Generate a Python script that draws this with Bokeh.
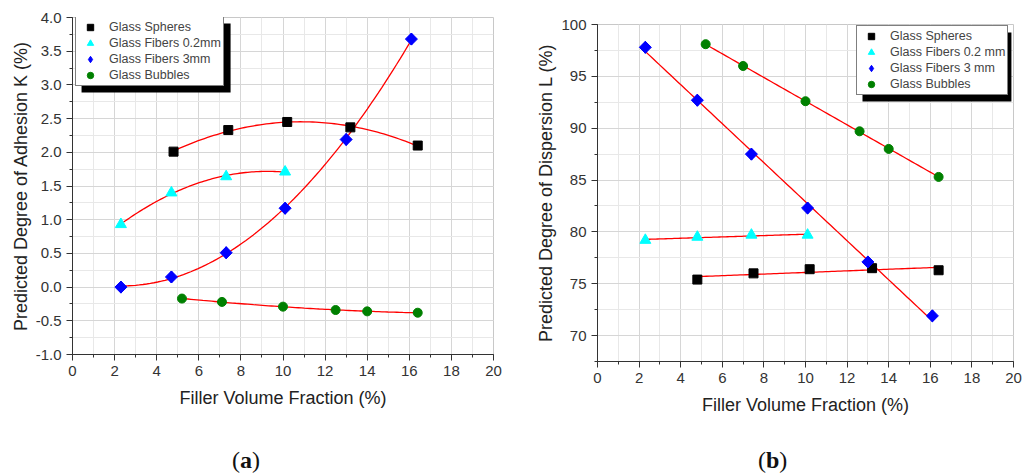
import numpy as np
from bokeh.plotting import figure
from bokeh.models import (Legend, LegendItem, BoxAnnotation, FixedTicker,
                          Range1d, NumeralTickFormatter, Div, Spacer)
from bokeh.layouts import row, column
from bokeh.embed import file_html
from bokeh.resources import INLINE

# ---------------- data (a) : Predicted Degree of Adhesion K (%) ----------------
a_spheres_x = [4.8, 7.4, 10.2, 13.2, 16.4]
a_spheres_y = [2.01, 2.33, 2.45, 2.37, 2.10]
a_fib02_x = [2.3, 4.7, 7.3, 10.1]
a_fib02_y = [0.93, 1.40, 1.64, 1.71]
a_fib3_x = [2.3, 4.7, 7.3, 10.1, 13.0, 16.1]
a_fib3_y = [0.0, 0.15, 0.51, 1.17, 2.19, 3.68]
a_bub_x = [5.2, 7.1, 10.0, 12.5, 14.0, 16.4]
a_bub_y = [-0.17, -0.22, -0.29, -0.34, -0.36, -0.38]

# ---------------- data (b) : Predicted Degree of Dispersion L (%) ----------------
b_spheres_x = [4.8, 7.5, 10.2, 13.2, 16.4]
b_spheres_y = [75.4, 76.0, 76.4, 76.5, 76.3]
b_fib02_x = [2.3, 4.8, 7.4, 10.1]
b_fib02_y = [79.2, 79.5, 79.7, 79.7]
b_fib3_x = [2.3, 4.8, 7.4, 10.1, 13.0, 16.1]
b_fib3_y = [97.8, 92.7, 87.5, 82.3, 77.1, 71.9]
b_bub_x = [5.2, 7.0, 10.0, 12.6, 14.0, 16.4]
b_bub_y = [98.1, 96.0, 92.6, 89.7, 88.0, 85.3]

x_ticks = list(range(0, 21, 2))
a_y_ticks = [-1.0, -0.5, 0.0, 0.5, 1.0, 1.5, 2.0, 2.5, 3.0, 3.5, 4.0]
b_y_ticks = [70, 75, 80, 85, 90, 95, 100]

names_a = ["Glass Spheres", "Glass Fibers 0.2mm", "Glass Fibers 3mm", "Glass Bubbles"]
names_b = ["Glass Spheres", "Glass Fibers 0.2 mm", "Glass Fibers 3 mm", "Glass Bubbles"]

FONT = "Liberation Sans"
# (marker, colour, size, angle)
styles = [("square", "black", 9, 0.0), ("triangle", "#00FFFF", 11, 0.0),
          ("square", "#0000FF", 8.5, np.pi / 4), ("circle", "#008000", 9, 0.0)]


def fit_line(p, xs, ys, deg):
    c = np.polyfit(xs, ys, deg)
    xx = np.linspace(min(xs), max(xs), 80)
    p.line(xx, np.polyval(c, xx), line_color="red", line_width=1.3)


def make_fig(height, xr, yr, yticks, ylabel, borders, ytick_minor, fmt):
    bl, br, bt, bb = borders
    p = figure(width=517, height=height, x_range=Range1d(*xr), y_range=Range1d(*yr),
               output_backend="svg", toolbar_location=None, title=None,
               min_border_left=bl, min_border_right=br, min_border_top=bt,
               min_border_bottom=bb, x_axis_label="Filler Volume Fraction (%)",
               y_axis_label=ylabel)
    p.background_fill_color = "white"
    p.border_fill_color = "white"
    p.outline_line_color = "#c8c8c8"
    for ax in (p.xaxis[0], p.yaxis[0]):
        ax.axis_line_color = "#333333"
        ax.major_tick_line_color = "#333333"
        ax.minor_tick_line_color = "#333333"
        ax.major_tick_out = 6
        ax.major_tick_in = 0
        ax.minor_tick_out = 3
        ax.minor_tick_in = 0
        ax.major_label_text_font = FONT
        ax.major_label_text_font_size = "15px"
        ax.major_label_text_color = "#333333"
        ax.axis_label_text_font = FONT
        ax.axis_label_text_font_size = "18px"
        ax.axis_label_text_font_style = "normal"
        ax.axis_label_text_color = "#222222"
    p.xaxis.ticker = FixedTicker(ticks=x_ticks, minor_ticks=list(range(0, 21)))
    p.yaxis.ticker = FixedTicker(ticks=yticks, minor_ticks=ytick_minor)
    p.yaxis.formatter = NumeralTickFormatter(format=fmt)
    p.xaxis.axis_label_standoff = 9
    p.yaxis.axis_label_standoff = 2
    p.xgrid.grid_line_color = "#d6d6d6"
    p.ygrid.grid_line_color = "#d6d6d6"
    p.xgrid.minor_grid_line_color = "#e8e8e8"
    p.ygrid.minor_grid_line_color = "#e8e8e8"
    return p


def add_points(p, series, names):
    items = []
    for (xs, ys), (m, col, s, ang), nm in zip(series, styles, names):
        if ang:
            # true diamond underneath (hidden by the rotated square) used as legend glyph
            leg_r = p.scatter(xs, ys, marker="diamond", size=12,
                              fill_color=col, line_color=col)
        r = p.scatter(xs, ys, marker=m, size=s, angle=ang,
                      fill_color=col, line_color=col)
        items.append(LegendItem(label=nm, renderers=[leg_r if ang else r]))
    return items


def add_legend(p, items, loc, shadow):
    l, r, t, b = shadow
    p.add_layout(BoxAnnotation(left=l, right=r, top=t, bottom=b, fill_color="black",
                               fill_alpha=1.0, line_alpha=0))
    leg = Legend(items=items, location=loc, margin=0, padding=2, spacing=0,
                 glyph_width=24, glyph_height=16, label_height=16, label_standoff=7,
                 label_text_font=FONT, label_text_font_size="12.5px",
                 label_text_baseline="middle",
                 border_line_color="black", border_line_width=1,
                 background_fill_color="white", background_fill_alpha=1.0)
    p.add_layout(leg, "center")


def caption(letter, left_pad, top_pad, h):
    return Div(text='(<b>%s</b>)' % letter, width=517, height=h,
               styles={"font-family": "Liberation Serif", "font-size": "24px",
                       "padding-left": "%dpx" % left_pad, "padding-top": "%dpx" % top_pad,
                       "color": "#111111", "line-height": "1"})


# ---------------- panel (a) ----------------
p1 = make_fig(420, (0, 20), (-1, 4), a_y_ticks, "Predicted Degree of Adhesion K (%)",
              (72, 24, 17, 66), [v / 4 for v in range(-4, 17)], "0.0")
fit_line(p1, a_spheres_x, a_spheres_y, 2)
fit_line(p1, a_fib02_x, a_fib02_y, 2)
fit_line(p1, a_fib3_x, a_fib3_y, 2)
fit_line(p1, a_bub_x, a_bub_y, 2)
items1 = add_points(p1, [(a_spheres_x, a_spheres_y), (a_fib02_x, a_fib02_y),
                         (a_fib3_x, a_fib3_y), (a_bub_x, a_bub_y)], names_a)
add_legend(p1, items1, (3, 268), (0.43, 7.51, 3.911, 2.887))

# ---------------- panel (b) ----------------
p2 = make_fig(420, (0, 20), (67.5, 100), b_y_ticks, "Predicted Degree of Dispersion L (%)",
              (80, 21, 17, 66), [v * 2.5 for v in range(27, 41)], "0")
fit_line(p2, b_spheres_x, b_spheres_y, 1)
fit_line(p2, b_fib02_x, b_fib02_y, 1)
fit_line(p2, b_fib3_x, b_fib3_y, 1)
fit_line(p2, b_bub_x, b_bub_y, 1)
items2 = add_points(p2, [(b_spheres_x, b_spheres_y), (b_fib02_x, b_fib02_y),
                         (b_fib3_x, b_fib3_y), (b_bub_x, b_bub_y)], names_b)
add_legend(p2, items2, (259, 266), (12.74, 19.9, 99.23, 92.57))

right = column(Spacer(width=517, height=7), p2)
layout = column(row(p1, right),
                row(caption("a", 227, 16, 47), caption("b", 226, 16, 47)))
open("out.html", "w").write(file_html(layout, INLINE))
